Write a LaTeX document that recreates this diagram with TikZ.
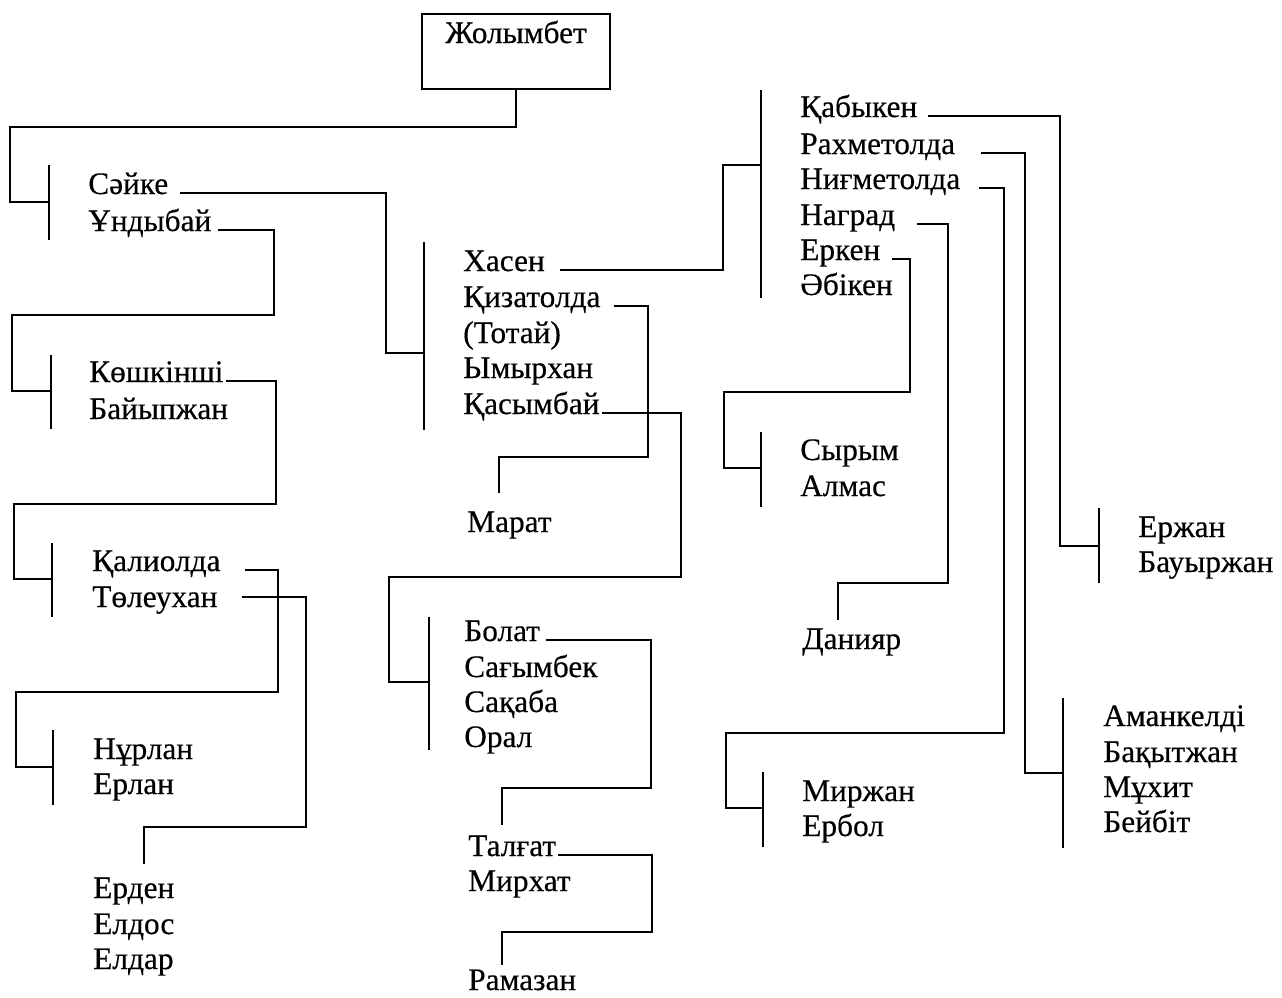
\documentclass[tikz,border=0pt]{standalone}
\usepackage{fontspec}
\setmainfont{Liberation Serif}[FakeBold=0.4]
\begin{document}
\begin{tikzpicture}[x=0.75pt,y=-0.75pt,
  pname/.style={inner sep=0pt, anchor=base west, font=\fontsize{23.5}{28}\selectfont},
  link/.style={line width=1.6pt, line join=miter},
  brk/.style={line width=1.6pt}]
\useasboundingbox (0,0) rectangle (1282,997);

% root
\node[draw, line width=1.6pt, inner sep=0pt, anchor=base, minimum width=141pt,
  text height=21.75pt, text depth=34.5pt, font=\fontsize{23.5}{28}\selectfont] (root) at (516,43) {Жолымбет};

% names
\node[pname] (saike) at (88,194) {Сәйке};
\node[pname] (undybai) at (88,231) {Ұндыбай};
\node[pname] (koshkinshi) at (89,382) {Көшкінші};
\node[pname] (baiypzhan) at (89,419) {Байыпжан};
\node[pname] (kaliolda) at (92,571) {Қалиолда};
\node[pname] (toleukhan) at (92,607) {Төлеухан};
\node[pname] (nurlan) at (93,759) {Нұрлан};
\node[pname] (erlan) at (93,794) {Ерлан};
\node[pname] (erden) at (93,898) {Ерден};
\node[pname] (eldos) at (93,934) {Елдос};
\node[pname] (eldar) at (93,969) {Елдар};

\node[pname] (hasen) at (463,271) {Хасен};
\node[pname] (kizatolda) at (463,307) {Қизатолда};
\node[pname] (totai) at (463,343) {(Тотай)};
\node[pname] (ymyrkhan) at (463,378) {Ымырхан};
\node[pname] (kasymbai) at (463,414) {Қасымбай};
\node[pname] (marat) at (467,532) {Марат};
\node[pname] (bolat) at (464,641) {Болат};
\node[pname] (sagymbek) at (464,677) {Сағымбек};
\node[pname] (sakaba) at (464,712) {Сақаба};
\node[pname] (oral) at (464,747) {Орал};
\node[pname] (talgat) at (468,856) {Талғат};
\node[pname] (mirkhat) at (468,891) {Мирхат};
\node[pname] (ramazan) at (468,990) {Рамазан};

\node[pname] (kabyken) at (800,117) {Қабыкен};
\node[pname] (rakhmetolda) at (800,154) {Рахметолда};
\node[pname] (nigmetolda) at (800,189) {Ниғметолда};
\node[pname] (nagrad) at (800,225) {Наград};
\node[pname] (erken) at (800,260) {Еркен};
\node[pname] (abiken) at (800,295) {Әбікен};
\node[pname] (syrym) at (800,460) {Сырым};
\node[pname] (almas) at (800,496) {Алмас};
\node[pname] (daniyar) at (802,649) {Данияр};
\node[pname] (mirzhan) at (802,801) {Миржан};
\node[pname] (erbol) at (802,836) {Ербол};
\node[pname] (erzhan) at (1138,537) {Ержан};
\node[pname] (bauyrzhan) at (1138,572) {Бауыржан};
\node[pname] (amankeldi) at (1103,726) {Аманкелді};
\node[pname] (bakytzhan) at (1103,762) {Бақытжан};
\node[pname] (mukhit) at (1103,797) {Мұхит};
\node[pname] (beibit) at (1103,832) {Бейбіт};

% bracket coordinates
\coordinate (b1t) at (49,165);  \coordinate (b1b) at (49,240);  \coordinate (b1m) at (49,202);
\coordinate (b2t) at (51,355);  \coordinate (b2b) at (51,429);  \coordinate (b2m) at (51,391);
\coordinate (b3t) at (52,543);  \coordinate (b3b) at (52,617);  \coordinate (b3m) at (52,579);
\coordinate (b4t) at (53,730);  \coordinate (b4b) at (53,805);  \coordinate (b4m) at (53,767);
\coordinate (hbt) at (424,242); \coordinate (hbb) at (424,430); \coordinate (hbm) at (424,353);
\coordinate (bbt) at (429,617); \coordinate (bbb) at (429,750); \coordinate (bbm) at (429,682);
\coordinate (brt) at (761,90);  \coordinate (brb) at (761,298); \coordinate (brm) at (761,165);
\coordinate (bst) at (761,432); \coordinate (bsb) at (761,507); \coordinate (bsm) at (761,468);
\coordinate (bmt) at (763,772); \coordinate (bmb) at (763,847); \coordinate (bmm) at (763,808);
\coordinate (bet) at (1099,508);\coordinate (beb) at (1099,583);\coordinate (bem) at (1099,546);
\coordinate (bat) at (1063,698);\coordinate (bab) at (1063,848);\coordinate (bam) at (1063,773);
% free ends
\coordinate (erdentop) at (144,864);
\coordinate (marattop) at (499,493);
\coordinate (talgattop) at (502,825);
\coordinate (ramazantop) at (502,965);
\coordinate (daniyartop) at (838,620);

% brackets
\foreach \b in {b1,b2,b3,b4,hb,bb,br,bs,bm,be,ba}
  \draw[brk] (\b t) -- (\b b);

% connectors
\draw[link] (root.south) |- (10,127) |- (b1m);
\draw[link] ([xshift=9pt,yshift=0.6pt]saike.base east) -| (386,353) -- (hbm);
\draw[link] ([xshift=5pt,yshift=0.6pt]undybai.base east) -| (274,315) -| (12,391) -- (b2m);
\draw[link] ([xshift=1.5pt,yshift=0.6pt]koshkinshi.base east) -| (276,504) -| (14,579) -- (b3m);
\draw[link] ([xshift=18pt,yshift=0.6pt]kaliolda.base east) -| (278,692) -| (16,767) -- (b4m);
\draw[link] ([xshift=18pt,yshift=7.5pt]toleukhan.base east) -| (306,827) -| (erdentop);
\draw[link] ([xshift=11pt,yshift=0.6pt]hasen.base east) -| (723,165) -- (brm);
\draw[link] ([xshift=10pt,yshift=0.6pt]kizatolda.base east) -| (648,457) -| (marattop);
\draw[link] ([xshift=2pt,yshift=0.6pt]kasymbai.base east) -| (681,577) -| (389,682) -- (bbm);
\draw[link] ([xshift=4pt,yshift=0.6pt]bolat.base east) -| (651,788) -| (talgattop);
\draw[link] ([xshift=1.5pt,yshift=0.6pt]talgat.base east) -| (652,932) -| (ramazantop);
\draw[link] ([xshift=8pt,yshift=0.6pt]kabyken.base east) -| (1060,546) -- (bem);
\draw[link] ([xshift=19.5pt,yshift=0.6pt]rakhmetolda.base east) -| (1025,773) -- (bam);
\draw[link] ([xshift=14pt,yshift=0.6pt]nigmetolda.base east) -| (1004,733) -| (726,808) -- (bmm);
\draw[link] ([xshift=16.5pt,yshift=0.6pt]nagrad.base east) -| (948,583) -| (daniyartop);
\draw[link] ([xshift=9pt,yshift=0.6pt]erken.base east) -| (910,392) -| (724,468) -- (bsm);
\end{tikzpicture}
\end{document}
